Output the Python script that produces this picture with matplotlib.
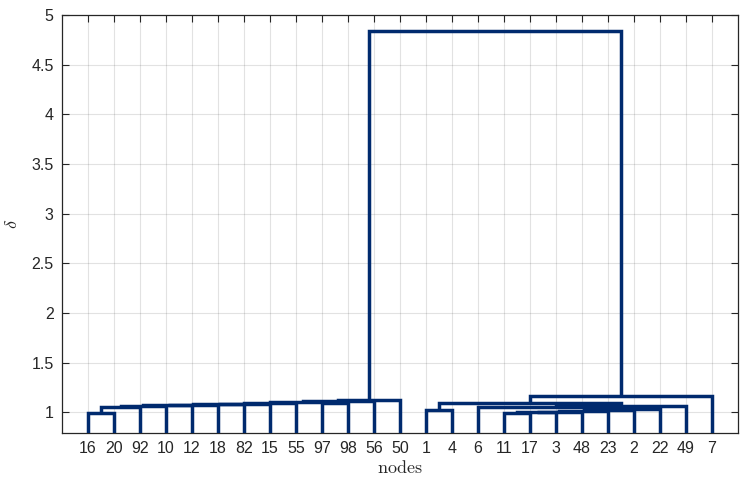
import matplotlib
matplotlib.use('Agg')
import matplotlib.pyplot as plt
import numpy as np

# Leaf order (left to right) as shown on the x axis
leaf_labels = ['16', '20', '92', '10', '12', '18', '82', '15', '55', '97', '98', '56', '50',
               '1', '4', '6', '11', '17', '3', '48', '23', '2', '22', '49', '7']

# Linkage: children are leaf labels (str) or indices of earlier merges (int)
merge_left = [
    '16', 0, 1, 2, 3, 4, 5, 6, '97', 7, 9, 10,
    '1', '11', 13, 14, 15, 16, 17, '6', 19, 12, 21,
    11,
]
merge_right = [
    '20', '92', '10', '12', '18', '82', '15', '55', '98', 8, '56', '50',
    '4', '17', '3', '48', '23', '2', '22', 18, '49', 20, '7',
    22,
]
merge_height = [
    0.995, 1.056, 1.065, 1.07, 1.075, 1.08, 1.085, 1.09, 1.088, 1.10, 1.11, 1.12,
    1.02, 0.995, 1.00, 1.003, 1.01, 1.02, 1.03, 1.055, 1.062, 1.09, 1.16,
    4.84,
]

y_ticks = [1, 1.5, 2, 2.5, 3, 3.5, 4, 4.5, 5]

plt.rcParams['mathtext.fontset'] = 'cm'
color = '#002A6E'
axis_col = '#262626'

fig = plt.figure(figsize=(7.47, 4.83), dpi=100)
ax = fig.add_axes([62 / 747, 1 - 433 / 483, 676 / 747, 418 / 483])

leaf_pos = {lab: i + 1 for i, lab in enumerate(leaf_labels)}
node_x = []
node_y = []


def coord(c):
    if isinstance(c, str):
        return leaf_pos[c], 0.0
    return node_x[c], node_y[c]


for l, r, h in zip(merge_left, merge_right, merge_height):
    xl, yl = coord(l)
    xr, yr = coord(r)
    ax.plot([xl, xl, xr, xr], [yl, h, h, yr], color=color, lw=2.5,
            solid_joinstyle='miter', solid_capstyle='butt', zorder=3)
    node_x.append((xl + xr) / 2)
    node_y.append(h)

ax.set_xlim(0, len(leaf_labels) + 1)
ax.set_ylim(0.79, 5)
ax.set_xticks(range(1, len(leaf_labels) + 1))
ax.set_xticklabels(leaf_labels)
ax.set_yticks(y_ticks)
ax.set_yticklabels([('%g' % v) for v in y_ticks])

ax.grid(True, color='#262626', alpha=0.13, lw=0.8)
ax.set_axisbelow(True)
ax.tick_params(direction='in', top=True, right=True, length=5, width=0.8,
               colors=axis_col, labelsize=11.5, pad=6)
for lab in ax.get_xticklabels() + ax.get_yticklabels():
    lab.set_fontfamily('Liberation Sans')
    lab.set_color(axis_col)
for s in ax.spines.values():
    s.set_color(axis_col)
    s.set_linewidth(0.9)

ax.set_xlabel(r'$\mathrm{nodes}$', fontsize=13, color=axis_col, va='center')
ax.set_ylabel(r'$\delta$', fontsize=13, color=axis_col, va='center')
ax.yaxis.set_label_coords(-0.074, 0.5)
ax.xaxis.set_label_coords(0.5, -0.083)

fig.savefig('out.png', dpi=100)
